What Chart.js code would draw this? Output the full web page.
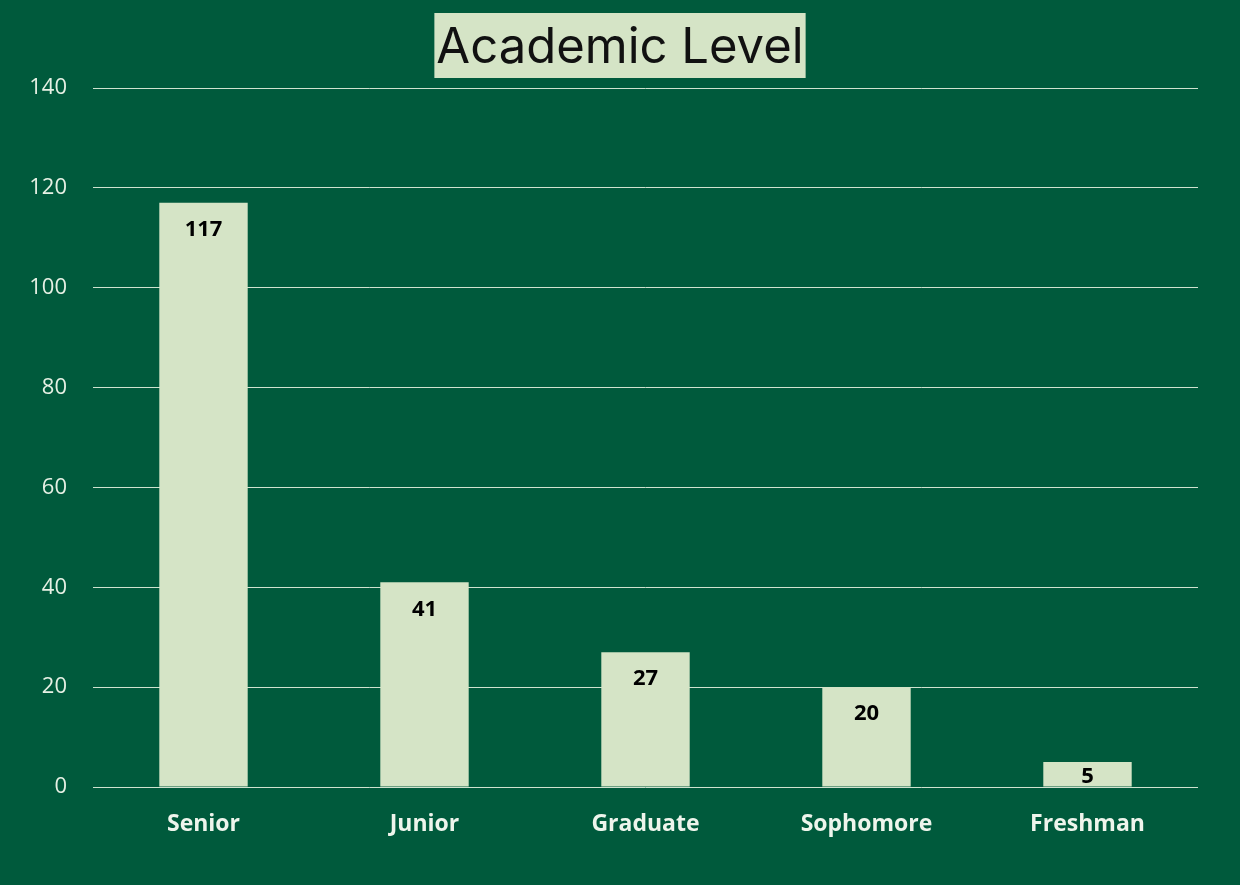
<!DOCTYPE html>
<html>

<head>
    <title>Academic Level</title>
    <script src="https://cdn.jsdelivr.net/npm/chart.js@4.4.1/dist/chart.umd.min.js"></script>
    <style>
        html, body { margin: 0; padding: 0; background: #005a3c; }
        #wrap { width: 1240px; height: 885px; }
    </style>
    <script>
        var levels = ["Senior", "Junior", "Graduate", "Sophomore", "Freshman"];
        var counts = [117, 41, 27, 20, 5];
        var yTicks = [0, 20, 40, 60, 80, 100, 120, 140];
        var titleText = "Academic Level";

        var bg = "#005a3c";
        var pale = "#d5e4c6";

        // page colour, plus the title on its pale box, centred on the page
        var backdrop = {
            id: 'backdrop',
            beforeDraw: function (chart) {
                var ctx = chart.ctx;
                ctx.save();
                ctx.fillStyle = bg;
                ctx.fillRect(0, 0, chart.width, chart.height);
                ctx.font = "49px Inter";
                var w = ctx.measureText(titleText).width;
                var cx = chart.width / 2;
                ctx.fillStyle = pale;
                ctx.fillRect(cx - w / 2 - 2, 13, w + 4, 65);
                ctx.fillStyle = "#111";
                ctx.textAlign = "center";
                ctx.textBaseline = "middle";
                ctx.fillText(titleText, cx, 48);
                ctx.restore();
            }
        };

        // value labels just inside the top of each bar
        var barValues = {
            id: 'barValues',
            afterDatasetsDraw: function (chart) {
                var ctx = chart.ctx;
                var meta = chart.getDatasetMeta(0);
                ctx.save();
                ctx.font = "bold 22px 'Open Sans'";
                ctx.fillStyle = "#000";
                ctx.textAlign = "center";
                ctx.textBaseline = "middle";
                meta.data.forEach(function (bar, i) {
                    var y = Math.min(bar.y + 27, bar.base - 10);
                    ctx.fillText(counts[i], bar.x, y);
                });
                ctx.restore();
            }
        };

        window.addEventListener('load', function () {
            new Chart(document.getElementById('chart').getContext('2d'), {
                type: 'bar',
                data: {
                    labels: levels,
                    datasets: [{
                        data: counts,
                        backgroundColor: pale,
                        borderWidth: 0,
                        categoryPercentage: 1,
                        barPercentage: 0.4
                    }]
                },
                options: {
                    responsive: false,
                    animation: false,
                    layout: { padding: { top: 88, right: 42, left: 0, bottom: 0 } },
                    plugins: {
                        legend: { display: false },
                        tooltip: { enabled: false },
                        title: { display: false }
                    },
                    scales: {
                        x: {
                            grid: { display: false, drawTicks: false },
                            border: { display: false },
                            ticks: {
                                color: "#eef5ec",
                                font: { family: "'Open Sans'", size: 23, weight: 'bold' },
                                padding: 24
                            },
                            afterFit: function (s) { s.height = 98; }
                        },
                        y: {
                            min: 0,
                            max: 140,
                            afterBuildTicks: function (s) {
                                s.ticks = yTicks.map(function (v) { return { value: v }; });
                            },
                            grid: { color: "#cfe2cf", lineWidth: 1, drawTicks: false },
                            border: { display: false },
                            ticks: {
                                color: "#e6f0e4",
                                font: { family: "'Open Sans'", size: 22 },
                                padding: 26
                            },
                            afterFit: function (s) { s.width = 93; }
                        }
                    }
                },
                plugins: [backdrop, barValues]
            });
        });
    </script>
</head>

<body>
    <div id="wrap"><canvas id="chart" width="1240" height="885"></canvas></div>
</body>

</html>
